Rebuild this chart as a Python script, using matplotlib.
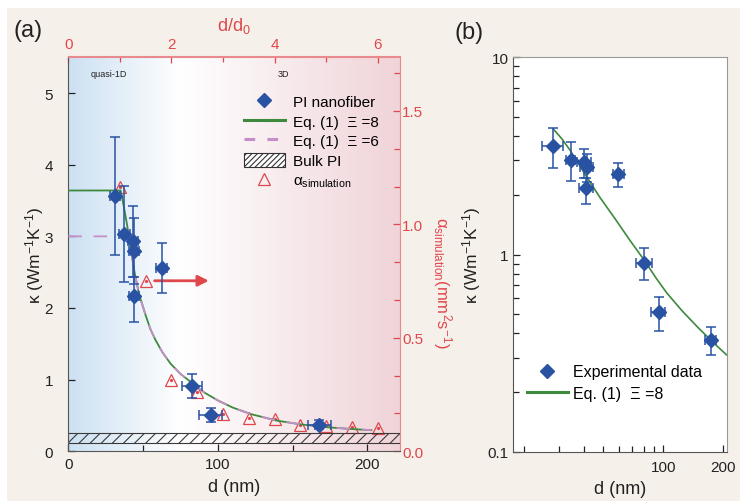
import numpy as np
import matplotlib
matplotlib.use('Agg')
import matplotlib.pyplot as plt
from matplotlib.patches import Rectangle, Patch
from matplotlib.lines import Line2D
from matplotlib.ticker import MultipleLocator, AutoMinorLocator, FixedLocator, NullFormatter, FormatStrFormatter

plt.rcParams['font.family'] = ['Liberation Sans', 'DejaVu Sans']
plt.rcParams['mathtext.default'] = 'regular'
plt.rcParams['hatch.linewidth'] = 0.8

# ---------------- data ----------------
# panel (a): PI nanofiber, kappa vs d
d_fiber = [31.2, 37.3, 43.5, 43.9, 43.9, 62.5, 82.5, 95.3, 167.9]
d_fiber_err = [3.3, 3.7, 3.3, 3.3, 3.3, 3.7, 6.7, 7.8, 7.8]
kappa_fiber = [3.56, 3.03, 2.93, 2.79, 2.17, 2.56, 0.91, 0.51, 0.37]
kappa_err_low = [0.82, 0.67, 0.50, 0.46, 0.37, 0.35, 0.17, 0.10, 0.06]
kappa_err_high = [0.83, 0.67, 0.50, 0.46, 0.26, 0.35, 0.17, 0.10, 0.06]

# Eq. (1) curves
eq8_d = [0, 35.0, 37.0, 39.4, 41.6, 44.3, 47.2, 51.7, 55.0, 58.4, 63.0, 68.5, 75.0, 83.0,
         91.0, 100.0, 110.0, 122.0, 139.0, 155.7, 173.6, 190.0, 202.7]
eq8_kappa = [3.64, 3.64, 3.43, 3.15, 2.85, 2.50, 2.20, 1.90, 1.70, 1.55, 1.38, 1.22, 1.08, 0.95,
             0.82, 0.71, 0.61, 0.52, 0.43, 0.375, 0.335, 0.31, 0.295]
eq6_d = [0, 40.5, 41.6, 44.3, 47.2, 51.7, 55.0, 58.4, 63.0, 68.5, 75.0, 83.0,
         91.0, 100.0, 110.0, 122.0, 139.0, 155.7, 173.6, 190.0, 202.7]
eq6_kappa = [3.00, 3.00, 2.85, 2.50, 2.20, 1.90, 1.70, 1.55, 1.38, 1.22, 1.08, 0.95,
             0.82, 0.71, 0.61, 0.52, 0.43, 0.375, 0.335, 0.31, 0.295]

# simulation (right axis) vs d/d0
d0 = 34.5
sim_ratio = [1.0, 1.5, 2.0, 2.5, 3.0, 3.5, 4.0, 4.5, 5.0, 5.5, 6.0]
sim_alpha = [1.166, 0.749, 0.316, 0.260, 0.164, 0.147, 0.142, 0.117, 0.113, 0.106, 0.101]

bulk_low, bulk_high = 0.12, 0.25
arrow_from, arrow_to, arrow_kappa = 57.7, 94.0, 2.38

# panel (b): log-log
d_exp_b = [28.0, 34.2, 40.1, 41.3, 41.0, 59.5, 80.0, 94.8, 173.4]
d_exp_b_err = [3.5, 1.8, 3.3, 3.3, 3.3, 3.9, 7.4, 7.7, 11.7]
eq8_d_b = [28, 31, 34, 40, 48, 58, 68, 80, 92, 104, 124, 150, 180, 208]
eq8_kappa_b = [4.33, 3.85, 3.38, 2.60, 1.95, 1.49, 1.18, 0.94, 0.76, 0.64, 0.52, 0.425, 0.355, 0.31]

# ---------------- style ----------------
W, H = 740, 502
beige = '#f6f0ea'
blue = '#2a52a3'
green = '#3d8a3d'
purple = '#c58ec8'
red = '#e0474c'
spine_red = '#e88a8e'
txt = '#222222'

fig = plt.figure(figsize=(7.4, 5.02), dpi=100)
fig.patch.set_facecolor('white')
fig.add_artist(Rectangle((7 / W, 0), 1, (H - 9) / H, transform=fig.transFigure,
                         facecolor=beige, edgecolor='none', zorder=-10))

def rect(x0, y0, x1, y1):
    return [x0 / W, 1 - y1 / H, (x1 - x0) / W, (y1 - y0) / H]

rectA = rect(68.3, 57.5, 399.5, 452.3)

# gradient background
axBG = fig.add_axes(rectA, zorder=0)
stops_x = [0.0, 0.34, 1.0]
stops_c = np.array([[0.80, 0.88, 0.95], [1.0, 1.0, 1.0], [0.94, 0.83, 0.85]])
xs = np.linspace(0, 1, 400)
grad = np.stack([np.interp(xs, stops_x, stops_c[:, k]) for k in range(3)], axis=-1)[None, :, :]
axBG.imshow(grad, aspect='auto', extent=[0, 1, 0, 1])
axBG.axis('off')

axA = fig.add_axes(rectA, zorder=2)
axA.patch.set_visible(False)
axR = axA.twinx()
axR.set_zorder(1)
axR.patch.set_visible(False)

xmax = 221.5
# simulation triangles
sim_d = np.array(sim_ratio) * d0
axR.plot(sim_d, sim_alpha, ls='none', marker='^', ms=8.5, mfc='none', mec=red, mew=0.9)
axR.plot(sim_d, sim_alpha, ls='none', marker='o', ms=1.3, color=red)
axR.set_ylim(0, 1.74)

# bulk band
axA.fill_between([0, xmax], bulk_low, bulk_high, facecolor='none', edgecolor='#3a3a3a',
                 hatch='///', lw=0.8, zorder=2)
# curves
axA.plot(eq8_d, eq8_kappa, color=green, lw=1.3, zorder=3)
axA.plot(eq6_d, eq6_kappa, color=purple, lw=1.3, ls=(0, (7.5, 6.5)), zorder=3)
# data
axA.errorbar(d_fiber, kappa_fiber, yerr=[kappa_err_low, kappa_err_high], xerr=d_fiber_err,
             fmt='D', color=blue, ms=7.5, capsize=3.5, elinewidth=1.1, capthick=1.1, zorder=5)
# arrow
axA.annotate('', xy=(arrow_to, arrow_kappa), xytext=(arrow_from, arrow_kappa),
             arrowprops=dict(arrowstyle='-|>', color=red, lw=2.0, mutation_scale=16,
                             shrinkA=0, shrinkB=0), zorder=4)

axA.set_xlim(0, xmax)
axA.set_ylim(0, 5.51)
axA.xaxis.set_major_locator(MultipleLocator(100))
axA.xaxis.set_minor_locator(MultipleLocator(50))
axA.yaxis.set_major_locator(MultipleLocator(1))
axA.tick_params(axis='both', which='both', direction='in', top=False, right=False,
                colors=txt, labelsize=11)
axA.tick_params(axis='both', which='major', length=5, width=0.9)
axA.tick_params(axis='both', which='minor', length=4, width=0.9)
axA.tick_params(axis='y', pad=11)
axA.tick_params(axis='x', pad=4)
for s in ['left', 'bottom']:
    axA.spines[s].set_color('#555555')
axA.spines['top'].set_color(spine_red)
axA.spines['right'].set_visible(False)
for s in ['left', 'bottom', 'top']:
    axR.spines[s].set_visible(False)
axR.spines['right'].set_color(spine_red)
axR.yaxis.set_major_locator(MultipleLocator(0.5))
axR.yaxis.set_minor_locator(AutoMinorLocator(3))
axR.yaxis.set_major_formatter(FormatStrFormatter('%.1f'))
axR.tick_params(axis='y', which='both', direction='in', colors=red, labelsize=11, pad=2, width=0.9)
axR.tick_params(axis='y', which='major', length=5)
axR.tick_params(axis='y', which='minor', length=4)

sec = axA.secondary_xaxis('top', functions=(lambda x: x / d0, lambda r: r * d0))
sec.xaxis.set_major_locator(MultipleLocator(2))
sec.xaxis.set_minor_locator(MultipleLocator(1))
sec.tick_params(which='both', direction='in', colors=red, labelsize=11, pad=4, width=0.9)
sec.tick_params(which='major', length=5)
sec.tick_params(which='minor', length=4)
sec.spines['top'].set_color(spine_red)
sec.set_xlabel('d/d$_0$', color=red, fontsize=13, labelpad=5)

axA.set_xlabel('d (nm)', fontsize=13, color=txt, labelpad=5)
axA.set_ylabel('κ (Wm$^{-1}$K$^{-1}$)', fontsize=12.5, color=txt, labelpad=-1)
fig.text(442 / W, 1 - 283 / H, 'α$_{simulation}$(mm$^2$s$^{-1}$)', rotation=270,
         ha='center', va='center', color=red, fontsize=12)

axA.text(0.066, 0.958, 'quasi-1D', transform=axA.transAxes, fontsize=6.5, color=txt,
         ha='left', va='center')
axA.text(0.65, 0.958, '3D', transform=axA.transAxes, fontsize=6.5, color=txt,
         ha='center', va='center')

hA = [Line2D([], [], ls='none', marker='D', color=blue, ms=7.5),
      Line2D([], [], color=green, lw=2.2),
      Line2D([], [], color=purple, lw=2.2, ls=(0, (3.5, 4))),
      Patch(facecolor='white', edgecolor='#333333', hatch='//////', lw=0.8),
      Line2D([], [], ls='none', marker='^', ms=8.5, mfc='none', mec=red, mew=0.9)]
lA = ['PI nanofiber', 'Eq. (1)  Ξ =8', 'Eq. (1)  Ξ =6', 'Bulk PI', 'α$_{simulation}$']
axA.legend(hA, lA, loc='upper left', bbox_to_anchor=(0.530, 0.905), frameon=False,
           fontsize=11, handlelength=2.7, handleheight=1.0, handletextpad=0.5,
           labelspacing=0.3, borderpad=0, borderaxespad=0)

# ---------------- panel (b) ----------------
axB = fig.add_axes(rect(512.7, 58.3, 727.3, 452.7))
axB.set_facecolor('white')
axB.set_xscale('log')
axB.set_yscale('log')
axB.plot(eq8_d_b, eq8_kappa_b, color=green, lw=1.2, zorder=3)
axB.errorbar(d_exp_b, kappa_fiber, yerr=[kappa_err_low, kappa_err_high], xerr=d_exp_b_err,
             fmt='D', color=blue, ms=7.5, capsize=3.5, elinewidth=1.1, capthick=1.1, zorder=5)
axB.set_xlim(17.5, 210)
axB.set_ylim(0.1, 10)
axB.xaxis.set_major_locator(FixedLocator([100, 200]))
axB.set_xticklabels(['100', '200'])
axB.xaxis.set_minor_locator(FixedLocator([20, 30, 40, 50, 60, 70, 80, 90]))
axB.xaxis.set_minor_formatter(NullFormatter())
axB.yaxis.set_major_locator(FixedLocator([0.1, 1, 10]))
axB.set_yticklabels(['0.1', '1', '10'])
axB.yaxis.set_minor_locator(FixedLocator([v * s for s in (0.1, 1) for v in range(2, 10)]))
axB.yaxis.set_minor_formatter(NullFormatter())
axB.tick_params(which='both', direction='in', top=False, right=False, colors=txt, labelsize=11, width=0.9)
axB.tick_params(which='major', length=5)
axB.tick_params(which='minor', length=4)
axB.tick_params(axis='y', pad=3)
axB.tick_params(axis='x', pad=6)
axB.spines['left'].set_color('#555555')
axB.spines['bottom'].set_color('#555555')
axB.spines['top'].set_color('#999999')
axB.spines['right'].set_color('#999999')
axB.set_xlabel('d (nm)', fontsize=13, color=txt, labelpad=4)
axB.set_ylabel('κ (Wm$^{-1}$K$^{-1}$)', fontsize=12.5, color=txt, labelpad=3)

hB = [Line2D([], [], ls='none', marker='D', color=blue, ms=7.5),
      Line2D([], [], color=green, lw=2.2)]
axB.legend(hB, ['Experimental data', 'Eq. (1)  Ξ =8'], loc='upper left',
           bbox_to_anchor=(0.065, 0.222), frameon=False, fontsize=11.5,
           handlelength=2.6, handletextpad=0.3, labelspacing=0.4, borderpad=0, borderaxespad=0)

fig.text(28 / W, 1 - 31 / H, '(a)', fontsize=17, color=txt, ha='center', va='center')
fig.text(469 / W, 1 - 33 / H, '(b)', fontsize=17, color=txt, ha='center', va='center')

fig.savefig('out.png', dpi=100, facecolor=fig.get_facecolor())
